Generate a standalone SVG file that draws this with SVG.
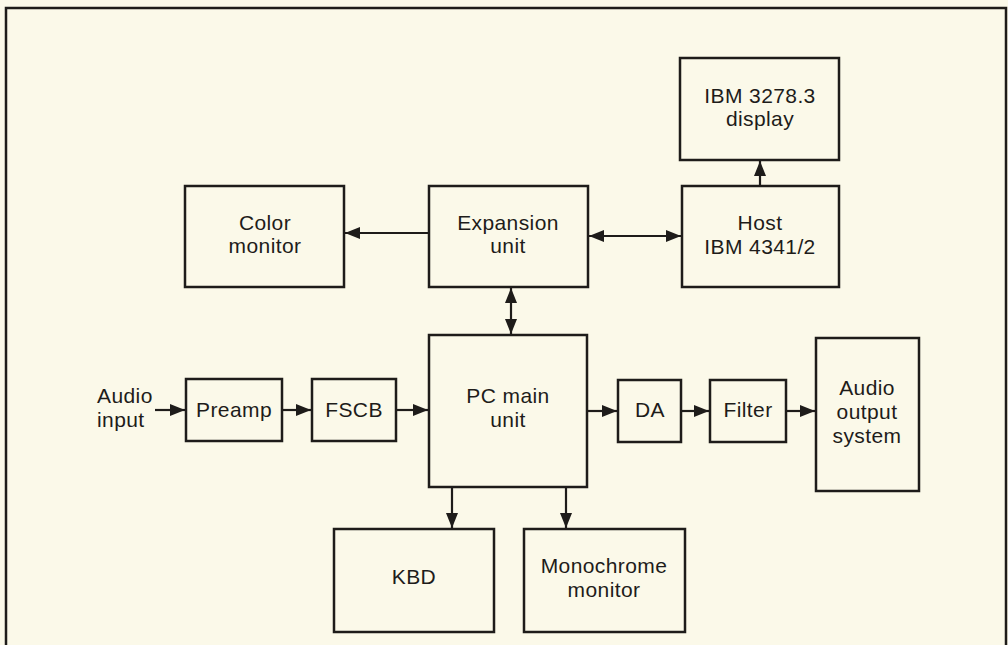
<svg xmlns="http://www.w3.org/2000/svg" width="1008" height="645" viewBox="0 0 1008 645">
  <defs>
    <marker id="arrow" viewBox="0 0 15 12" refX="15" refY="6" markerWidth="15" markerHeight="12" markerUnits="userSpaceOnUse" orient="auto-start-reverse">
      <path d="M0,0 L15,6 L0,12 z" fill="#1e1c1a"/>
    </marker>
    <style>
      .box { fill: none; stroke: #1e1c1a; stroke-width: 2.5; }
      .lbl { font-family: "Liberation Sans", Arial, sans-serif; font-size: 21px; fill: #1e1c1a; text-anchor: middle; letter-spacing: 0.4px; }
      .lft { text-anchor: start; }
      .wire { fill: none; stroke: #1e1c1a; stroke-width: 2.2; }
    </style>
  </defs>

  <!-- page background and frame -->
  <rect x="0" y="0" width="1008" height="645" fill="#fbf9e9"/>
  <path d="M6,645 V8 H1006 V645" fill="none" stroke="#1e1c1a" stroke-width="2.5"/>

  <g id="display">
    <rect class="box" x="680" y="58" width="159" height="102"/>
    <text class="lbl" x="760" y="103">IBM 3278.3</text>
    <text class="lbl" x="760" y="126">display</text>
  </g>

  <g id="color-monitor">
    <rect class="box" x="185" y="186" width="159" height="101"/>
    <text class="lbl" x="265" y="230">Color</text>
    <text class="lbl" x="265" y="253">monitor</text>
  </g>

  <g id="expansion-unit">
    <rect class="box" x="429" y="186" width="159" height="101"/>
    <text class="lbl" x="508" y="230">Expansion</text>
    <text class="lbl" x="508" y="253">unit</text>
  </g>

  <g id="host">
    <rect class="box" x="682" y="186" width="157" height="101"/>
    <text class="lbl" x="760" y="230">Host</text>
    <text class="lbl" x="760" y="254">IBM 4341/2</text>
  </g>

  <g id="audio-input">
    <text class="lbl lft" x="97" y="403">Audio</text>
    <text class="lbl lft" x="97" y="427">input</text>
  </g>

  <g id="preamp">
    <rect class="box" x="186" y="379" width="96" height="62"/>
    <text class="lbl" x="234" y="417">Preamp</text>
  </g>

  <g id="fscb">
    <rect class="box" x="312" y="379" width="84" height="62"/>
    <text class="lbl" x="354" y="417">FSCB</text>
  </g>

  <g id="pc-main-unit">
    <rect class="box" x="429" y="335" width="158" height="152"/>
    <text class="lbl" x="508" y="403">PC main</text>
    <text class="lbl" x="508" y="427">unit</text>
  </g>

  <g id="da">
    <rect class="box" x="618" y="380" width="63" height="62"/>
    <text class="lbl" x="650" y="417">DA</text>
  </g>

  <g id="filter">
    <rect class="box" x="710" y="380" width="76" height="62"/>
    <text class="lbl" x="748" y="417">Filter</text>
  </g>

  <g id="audio-output">
    <rect class="box" x="816" y="338" width="103" height="153"/>
    <text class="lbl" x="867" y="395">Audio</text>
    <text class="lbl" x="867" y="419">output</text>
    <text class="lbl" x="867" y="443">system</text>
  </g>

  <g id="kbd">
    <rect class="box" x="334" y="529" width="160" height="103"/>
    <text class="lbl" x="414" y="584">KBD</text>
  </g>

  <g id="mono-monitor">
    <rect class="box" x="524" y="529" width="161" height="103"/>
    <text class="lbl" x="604" y="573">Monochrome</text>
    <text class="lbl" x="604" y="597">monitor</text>
  </g>

  <g id="connectors">
    <line class="wire" x1="429" y1="233" x2="345" y2="233" marker-end="url(#arrow)"/>
    <line class="wire" x1="589" y1="236" x2="681" y2="236" marker-start="url(#arrow)" marker-end="url(#arrow)"/>
    <line class="wire" x1="511" y1="288" x2="511" y2="334" marker-start="url(#arrow)" marker-end="url(#arrow)"/>
    <line class="wire" x1="760" y1="186" x2="760" y2="161" marker-end="url(#arrow)"/>
    <line class="wire" x1="155" y1="410" x2="185" y2="410" marker-end="url(#arrow)"/>
    <line class="wire" x1="282" y1="410" x2="311" y2="410" marker-end="url(#arrow)"/>
    <line class="wire" x1="396" y1="410" x2="428" y2="410" marker-end="url(#arrow)"/>
    <line class="wire" x1="587" y1="411" x2="617" y2="411" marker-end="url(#arrow)"/>
    <line class="wire" x1="681" y1="411" x2="709" y2="411" marker-end="url(#arrow)"/>
    <line class="wire" x1="786" y1="411" x2="815" y2="411" marker-end="url(#arrow)"/>
    <line class="wire" x1="452" y1="487" x2="452" y2="528" marker-end="url(#arrow)"/>
    <line class="wire" x1="566" y1="487" x2="566" y2="528" marker-end="url(#arrow)"/>
  </g>
</svg>
